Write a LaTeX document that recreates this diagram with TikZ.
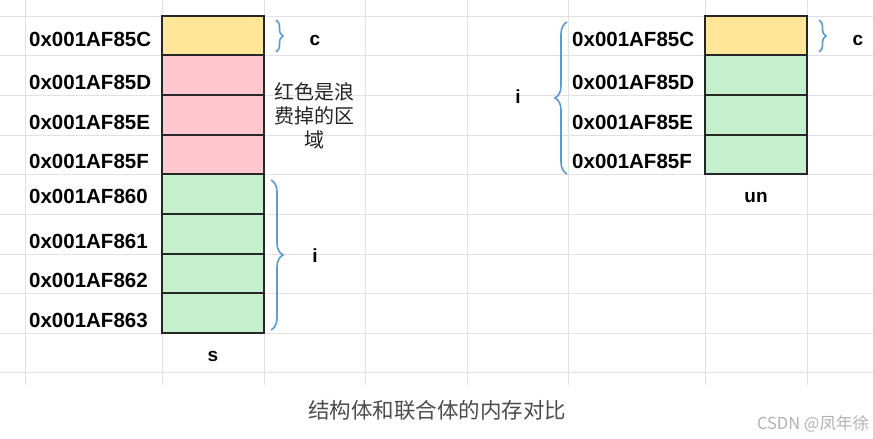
\documentclass[tikz,border=0pt]{standalone}
\usepackage{fontspec}
\setmainfont{Liberation Sans}
\newfontfamily\cjk{Noto Sans CJK SC}
\usetikzlibrary{decorations.pathreplacing}
\definecolor{gridc}{HTML}{E2E2E2}
\definecolor{yel}{HTML}{FFE699}
\definecolor{pnk}{HTML}{FFC7CE}
\definecolor{grn}{HTML}{C6EFCE}
\definecolor{brc}{HTML}{5B9BD5}
\tikzset{
 cell/.style={draw=black!85,line width=1.1pt},
 addr/.style={anchor=west,font=\bfseries\fontsize{20.5}{20}\selectfont,inner sep=0},
 lab/.style={font=\bfseries\fontsize{19}{19}\selectfont,inner sep=0},
 br/.style={draw=brc,line width=1.6pt,decorate},
}
\begin{document}
\begin{tikzpicture}[x=1pt,y=-1pt]
\useasboundingbox (0,0) rectangle (873,439);
\fill[white] (0,0) rectangle (873,439);
% grid
\foreach \y in {16,55,95,135,174,214,254,293,333,372}
  \draw[gridc,line width=0.8pt] (0,\y) -- (873,\y);
\foreach \x in {25,162,264,365,467,568,705,807}
  \draw[gridc,line width=0.8pt] (\x,0) -- (\x,385);
% left struct
\draw[cell,fill=yel] (162,16) rectangle (264,55);
\foreach \a/\b in {55/95,95/135,135/174}
  \draw[cell,fill=pnk] (162,\a) rectangle (264,\b);
\foreach \a/\b in {174/214,214/254,254/293,293/333}
  \draw[cell,fill=grn] (162,\a) rectangle (264,\b);
\node[addr] (a1) at (29,39) {0x001AF85C};
\node[addr] (a2) at (29,82) {0x001AF85D};
\node[addr] (a3) at (29,122) {0x001AF85E};
\node[addr] (a4) at (29,161) {0x001AF85F};
\node[addr] (a5) at (29,196) {0x001AF860};
\node[addr] (a6) at (29,241) {0x001AF861};
\node[addr] (a7) at (29,280) {0x001AF862};
\node[addr] (a8) at (29,320) {0x001AF863};
\coordinate (lc1) at (276,20); \coordinate (lc2) at (276,52);
\draw[br,decoration={brace,amplitude=7pt}] (lc1) -- (lc2);
\node[lab] (lc) at (315,40) {c};
\node[align=center,font=\cjk\fontsize{20}{24}\selectfont,text=black!85] (red) at (314,116) {红色是浪\\费掉的区\\域};
\coordinate (li1) at (271,180); \coordinate (li2) at (271,330);
\draw[br,decoration={brace,amplitude=12pt}] (li1) -- (li2);
\node[lab] (li) at (315,256) {i};
\node[lab] (s) at (213,356) {s};
% right union
\draw[cell,fill=yel] (705,16) rectangle (807,55);
\foreach \a/\b in {55/95,95/135,135/174}
  \draw[cell,fill=grn] (705,\a) rectangle (807,\b);
\node[addr] (b1) at (572,39) {0x001AF85C};
\node[addr] (b2) at (572,82) {0x001AF85D};
\node[addr] (b3) at (572,122) {0x001AF85E};
\node[addr] (b4) at (572,161) {0x001AF85F};
\coordinate (ri1) at (567,174); \coordinate (ri2) at (567,22);
\draw[br,decoration={brace,amplitude=12pt}] (ri1) -- (ri2);
\node[lab] (ri) at (518,97) {i};
\coordinate (rc1) at (819,20); \coordinate (rc2) at (819,52);
\draw[br,decoration={brace,amplitude=7pt}] (rc1) -- (rc2);
\node[lab] (rc) at (858,40) {c};
\node[lab] (un) at (756,197) {un};
% caption
\node[font=\cjk\fontsize{21.5}{21.5}\selectfont,text=black!70] (cap) at (437,410) {结构体和联合体的内存对比};
\node[font=\cjk\fontsize{16.5}{16.5}\selectfont,text=black!30] (wm) at (813,424) {CSDN @凤年徐};
\end{tikzpicture}
\end{document}
